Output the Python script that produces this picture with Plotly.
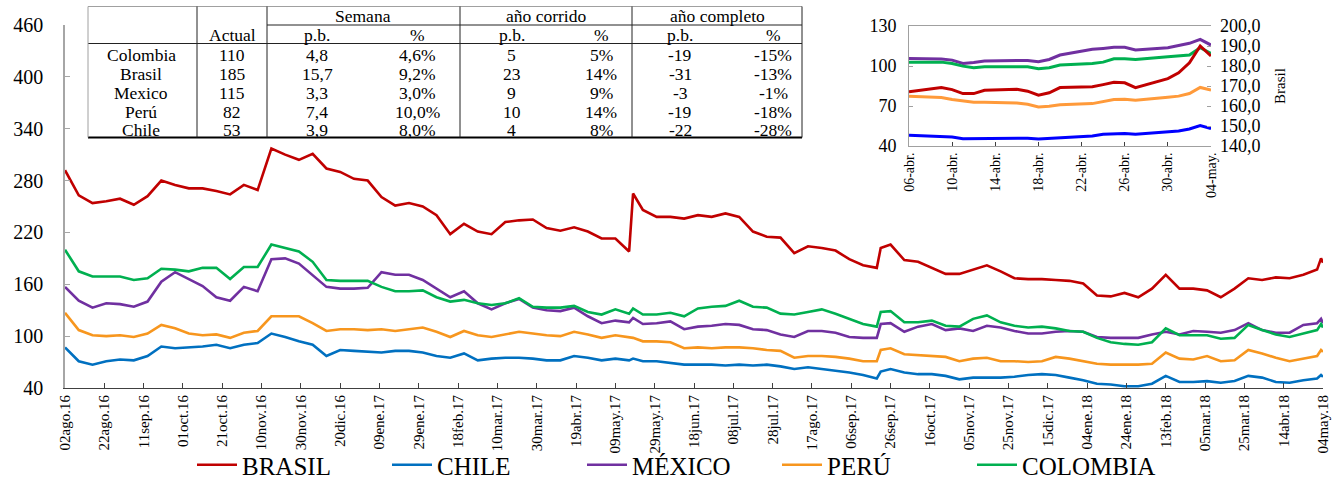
import pandas as pd
import plotly.graph_objects as go

# ---- main series (weekly readings + a few spike days) ----
fechas = [
    "2016-08-02", "2016-08-09", "2016-08-16", "2016-08-23", "2016-08-30", "2016-09-06", "2016-09-13",
    "2016-09-20", "2016-09-27", "2016-10-04", "2016-10-11", "2016-10-18", "2016-10-25", "2016-11-01",
    "2016-11-08", "2016-11-15", "2016-11-22", "2016-11-29", "2016-12-06", "2016-12-13", "2016-12-20",
    "2016-12-27", "2017-01-03", "2017-01-10", "2017-01-17", "2017-01-24", "2017-01-31", "2017-02-07",
    "2017-02-14", "2017-02-21", "2017-02-28", "2017-03-07", "2017-03-14", "2017-03-21", "2017-03-28",
    "2017-04-04", "2017-04-11", "2017-04-18", "2017-04-25", "2017-05-02", "2017-05-09", "2017-05-16",
    "2017-05-18", "2017-05-23", "2017-05-30", "2017-06-06", "2017-06-13", "2017-06-20", "2017-06-27",
    "2017-07-04", "2017-07-11", "2017-07-18", "2017-07-25", "2017-08-01", "2017-08-08", "2017-08-15",
    "2017-08-22", "2017-08-29", "2017-09-05", "2017-09-12", "2017-09-19", "2017-09-21", "2017-09-26",
    "2017-10-03", "2017-10-10", "2017-10-17", "2017-10-24", "2017-10-31", "2017-11-07", "2017-11-14",
    "2017-11-21", "2017-11-28", "2017-12-05", "2017-12-12", "2017-12-19", "2017-12-26", "2018-01-02",
    "2018-01-09", "2018-01-16", "2018-01-23", "2018-01-30", "2018-02-06", "2018-02-13", "2018-02-20",
    "2018-02-27", "2018-03-06", "2018-03-13", "2018-03-20", "2018-03-27", "2018-04-03", "2018-04-10",
    "2018-04-17", "2018-04-24", "2018-05-01", "2018-05-03", "2018-05-04",
]

brasil = [
    292, 263, 254, 256, 259, 252, 262, 280, 275, 271, 271, 268, 264, 275, 269, 317, 310, 304, 311, 294,
    290, 282, 280, 261, 251, 254, 250, 240, 218, 230, 221, 218, 232, 234, 235, 225, 222, 226, 221, 213,
    213, 198, 265, 246, 238, 238, 236, 240, 238, 242, 238, 221, 215, 214, 196, 204, 202, 199, 189, 182,
    179, 202, 206, 188, 186, 179, 172, 172, 177, 182, 175, 167, 166, 166, 165, 164, 161, 147, 146, 150,
    145, 155, 171, 155, 155, 153, 145, 155, 167, 165, 168, 167, 171, 177, 190, 185,
]
chile = [
    87, 71, 67, 71, 73, 72, 77, 88, 86, 87, 88, 90, 86, 90, 92, 103, 99, 94, 90, 77,
    84, 83, 82, 81, 83, 83, 81, 77, 75, 80, 72, 74, 75, 75, 74, 72, 72, 77, 75, 72,
    74, 72, 74, 71, 71, 69, 67, 67, 67, 66, 67, 66, 67, 65, 62, 64, 62, 60, 58, 55,
    51, 59, 62, 58, 56, 56, 54, 50, 52, 52, 52, 53, 55, 56, 55, 52, 49, 45, 44, 42,
    42, 45, 54, 47, 47, 48, 46, 48, 54, 52, 47, 46, 49, 51, 55, 53,
]
mexico = [
    157, 141, 133, 138, 137, 134, 140, 163, 174, 166, 158, 145, 141, 157, 152, 189, 190, 184, 171, 157,
    155, 155, 156, 174, 171, 171, 165, 155, 145, 152, 138, 131, 138, 143, 133, 130, 129, 133, 123, 115,
    118, 116, 121, 114, 115, 117, 108, 111, 112, 114, 113, 108, 107, 102, 99, 106, 106, 104, 99, 98,
    98, 114, 115, 105, 111, 114, 107, 109, 106, 112, 110, 106, 103, 103, 105, 106, 105, 99, 98, 98,
    98, 102, 105, 102, 106, 105, 104, 107, 115, 107, 104, 104, 113, 115, 120, 115,
]
peru = [
    127, 107, 101, 100, 101, 99, 103, 113, 109, 103, 101, 102, 98, 104, 106, 123, 123, 123, 115, 106,
    108, 108, 107, 108, 106, 108, 110, 105, 99, 106, 101, 99, 102, 105, 103, 101, 100, 105, 102, 98,
    101, 98, 98, 94, 94, 93, 86, 87, 86, 87, 87, 86, 84, 83, 75, 77, 77, 76, 74, 71,
    71, 84, 86, 79, 78, 77, 76, 71, 74, 75, 71, 71, 70, 71, 76, 74, 71, 68, 67, 67,
    67, 68, 81, 74, 73, 77, 71, 72, 84, 80, 75, 71, 74, 77, 84, 82,
]
colombia = [
    200, 175, 169, 169, 169, 165, 167, 178, 177, 175, 179, 179, 166, 180, 180, 206, 202, 198, 186, 165,
    164, 164, 164, 157, 152, 152, 153, 145, 140, 142, 138, 136, 138, 144, 134, 133, 133, 135, 128, 125,
    131, 126, 132, 125, 125, 127, 123, 132, 134, 135, 141, 134, 133, 126, 125, 128, 131, 126, 120, 114,
    111, 128, 129, 116, 116, 118, 112, 111, 120, 124, 116, 112, 110, 111, 109, 106, 105, 98, 93, 91,
    90, 93, 109, 101, 101, 101, 97, 98, 113, 107, 102, 99, 103, 107, 114, 110,
]

x_ticks = pd.date_range("2016-08-02", periods=33, freq="20D")
x_ticktext = [
    "02ago.16", "22ago.16", "11sep.16", "01oct.16", "21oct.16", "10nov.16", "30nov.16", "20dic.16",
    "09ene.17", "29ene.17", "18feb.17", "10mar.17", "30mar.17", "19abr.17", "09may.17", "29may.17",
    "18jun.17", "08jul.17", "28jul.17", "17ago.17", "06sep.17", "26sep.17", "16oct.17", "05nov.17",
    "25nov.17", "15dic.17", "04ene.18", "24ene.18", "13feb.18", "05mar.18", "25mar.18", "14abr.18",
    "04may.18",
]

# ---- inset: last month, business days ----
fechas_ins = [
    "2018-04-06", "2018-04-09", "2018-04-10", "2018-04-11", "2018-04-12", "2018-04-13", "2018-04-16",
    "2018-04-17", "2018-04-18", "2018-04-19", "2018-04-20", "2018-04-23", "2018-04-24", "2018-04-25",
    "2018-04-26", "2018-04-27", "2018-04-30", "2018-05-01", "2018-05-02", "2018-05-03", "2018-05-04",
]
ins_brasil = [167.1, 169.2, 168.2, 166.2, 166.2, 167.9, 168.4, 167.4, 165.4, 166.6, 169.2, 169.6,
              170.7, 171.9, 171.6, 169.2, 173.7, 176.6, 181.6, 190.0, 185.0]
ins_mexico = [105.7, 105.2, 104.4, 101.9, 102.7, 103.7, 104.2, 104.2, 103.2, 104.9, 108.2, 112.5,
              113.2, 114.0, 114.0, 112.0, 113.7, 115.2, 117.0, 120.0, 115.7]
ins_colombia = [102.9, 102.9, 101.9, 99.9, 98.7, 99.4, 99.4, 99.4, 97.9, 98.7, 100.7, 101.9,
                102.9, 105.4, 105.4, 104.9, 106.9, 107.4, 108.2, 113.7, 109.4]
ins_peru = [77.4, 76.4, 74.9, 73.8, 72.8, 72.8, 72.3, 71.3, 69.3, 69.8, 71.0, 71.8,
            73.6, 74.9, 75.1, 74.3, 76.6, 77.4, 79.4, 83.9, 81.9]
ins_chile = [48.0, 47.3, 46.8, 45.5, 45.5, 46.0, 46.0, 45.8, 45.3, 45.8, 46.5, 47.5,
             48.8, 49.3, 49.3, 48.8, 50.5, 51.3, 52.8, 55.3, 53.0]
ins_ticks = pd.date_range("2018-04-06", periods=8, freq="4D")
ins_ticktext = ["06-abr.", "10-abr.", "14-abr.", "18-abr.", "22-abr.", "26-abr.", "30-abr.", "04-may."]

# ---- table ----
paises = ["Colombia", "Brasil", "Mexico", "Perú", "Chile"]
actual = [110, 185, 115, 82, 53]
sem_pb = [4.8, 15.7, 3.3, 7.4, 3.9]
sem_pct = [4.6, 9.2, 3.0, 10.0, 8.0]
corr_pb = [5, 23, 9, 10, 4]
corr_pct = [5, 14, 9, 14, 8]
comp_pb = [-19, -31, -3, -19, -22]
comp_pct = [-15, -13, -1, -18, -28]

FONT = "Liberation Serif"
C_BR, C_CL, C_MX, C_PE, C_CO = "#C00000", "#0070C0", "#7030A0", "#F7961E", "#00B050"
W, H = 1341, 479

# pixel -> paper helpers (plot area 65..1323 x 25..388)
PL, PR, PT, PB = 65, 1323, 25, 388
def px(x):
    return (x - PL) / (PR - PL)
def py(y):
    return (PB - y) / (PB - PT)

fig = go.Figure()

for name, vals, col in [("BRASIL", brasil, C_BR), ("CHILE", chile, C_CL), ("MÉXICO", mexico, C_MX),
                        ("PERÚ", peru, C_PE), ("COLOMBIA", colombia, C_CO)]:
    fig.add_trace(go.Scatter(x=fechas, y=vals, name=name, mode="lines",
                             line=dict(color=col, width=2.6)))

# inset traces
for vals, col in [(ins_mexico, C_MX), (ins_colombia, C_CO), (ins_peru, "#FF9A3A"), (ins_chile, "#0000FF")]:
    fig.add_trace(go.Scatter(x=fechas_ins, y=vals, mode="lines", showlegend=False,
                             line=dict(color=col, width=3), xaxis="x2", yaxis="y2"))
fig.add_trace(go.Scatter(x=fechas_ins, y=ins_brasil, mode="lines", showlegend=False,
                         line=dict(color=C_BR, width=3), xaxis="x2", yaxis="y3"))

fig.update_layout(
    width=W, height=H,
    margin=dict(l=PL, r=W - PR, t=PT, b=H - PB, autoexpand=False),
    paper_bgcolor="white", plot_bgcolor="white",
    font=dict(family=FONT, color="black"),
    xaxis=dict(type="date", range=["2016-08-02", "2018-05-04"], tickvals=x_ticks, ticktext=x_ticktext,
               tickangle=-90, tickfont=dict(size=15), showgrid=False, showline=True,
               linecolor="#404040", ticks="inside", ticklen=5, tickcolor="#404040"),
    yaxis=dict(range=[40, 460], tickvals=list(range(40, 461, 60)), tickfont=dict(size=20),
               showgrid=False, zeroline=False, showline=True, linecolor="#A6A6A6", linewidth=1.5,
               ticks="inside", ticklen=5, tickcolor="#A6A6A6", ticklabelstandoff=16),
    xaxis2=dict(type="date", domain=[px(909), px(1211)], anchor="y2",
                range=["2018-04-06", "2018-05-04"], tickvals=ins_ticks, ticktext=ins_ticktext,
                tickangle=-90, tickfont=dict(size=14), showgrid=False, showline=True, mirror=True,
                linecolor="#A0A0A0", ticks="inside", ticklen=4, tickcolor="#404040"),
    yaxis2=dict(domain=[py(146), py(26)], anchor="x2", range=[40, 130], tickvals=[40, 70, 100, 130],
                tickfont=dict(size=18), showgrid=False, zeroline=False, showline=True,
                linecolor="#A0A0A0", ticks="inside", ticklen=4, tickcolor="#A0A0A0",
                ticklabelstandoff=8),
    yaxis3=dict(overlaying="y2", side="right", anchor="x2", range=[140, 200],
                tickvals=[140, 150, 160, 170, 180, 190, 200],
                ticktext=["140,0", "150,0", "160,0", "170,0", "180,0", "190,0", "200,0"],
                tickfont=dict(size=18), showgrid=False, zeroline=False, showline=False,
                ticks="inside", ticklen=4, tickcolor="#A0A0A0", ticklabelstandoff=8,
                title=dict(text="Brasil", font=dict(size=15), standoff=14)),
    legend=dict(orientation="h", xref="container", yref="container", x=192 / W, y=1 - 465 / H,
                xanchor="left", yanchor="middle", font=dict(size=25), entrywidth=140,
                entrywidthmode="pixels", bgcolor="rgba(0,0,0,0)", itemwidth=40),
    showlegend=True,
)

# ---- table drawn with shapes + annotations ----
shapes = [dict(type="rect", xref="paper", yref="paper", x0=px(88), x1=px(802), y0=py(137.5), y1=py(6.5),
               fillcolor="white", line=dict(width=0), layer="above")]
for y, x0, col, w in [(6.5, 88, "#A0A0A0", 1), (25, 267, "#222", 1), (43.5, 88, "#222", 1),
                      (137.5, 88, "black", 2)]:
    shapes.append(dict(type="line", xref="paper", yref="paper", x0=px(x0), x1=px(802), y0=py(y), y1=py(y),
                       line=dict(color=col, width=w), layer="above"))
for x, col in [(88, "#A0A0A0"), (197, "#222"), (267, "#222"), (460, "#222"), (632, "#222"), (802, "#222")]:
    shapes.append(dict(type="line", xref="paper", yref="paper", x0=px(x), x1=px(x), y0=py(137.5), y1=py(6.5),
                       line=dict(color=col, width=1), layer="above"))
fig.update_layout(shapes=shapes)


def txt(x, y, s):
    fig.add_annotation(x=px(x), y=py(y), xref="paper", yref="paper", text=s, showarrow=False,
                       xanchor="center", yanchor="middle", borderpad=0,
                       font=dict(size=17.5, family=FONT))


def coma(v, dec):
    return f"{v:.{dec}f}".replace(".", ",")


txt(363, 16, "Semana")
txt(546, 16, "año corrido")
txt(717, 16, "año completo")
txt(232, 35, "Actual")
for x, s in [(317, "p.b."), (417, "%"), (512, "p.b."), (601, "%"), (680, "p.b."), (773, "%")]:
    txt(x, 35, s)
row_y = [55, 74, 93, 112, 130]
for i, y in enumerate(row_y):
    txt(141, y, paises[i])
    txt(232, y, str(actual[i]))
    txt(317, y, coma(sem_pb[i], 1))
    txt(417, y, coma(sem_pct[i], 1) + "%")
    txt(512, y, str(corr_pb[i]))
    txt(601, y, f"{corr_pct[i]}%")
    txt(680, y, str(comp_pb[i]))
    txt(773, y, f"{comp_pct[i]}%")

# drop the browser's default 8px body margin so the figure sits at the page corner
fig.write_html("out.html", config={"displayModeBar": False},
               post_script="document.body.style.margin='0';")
